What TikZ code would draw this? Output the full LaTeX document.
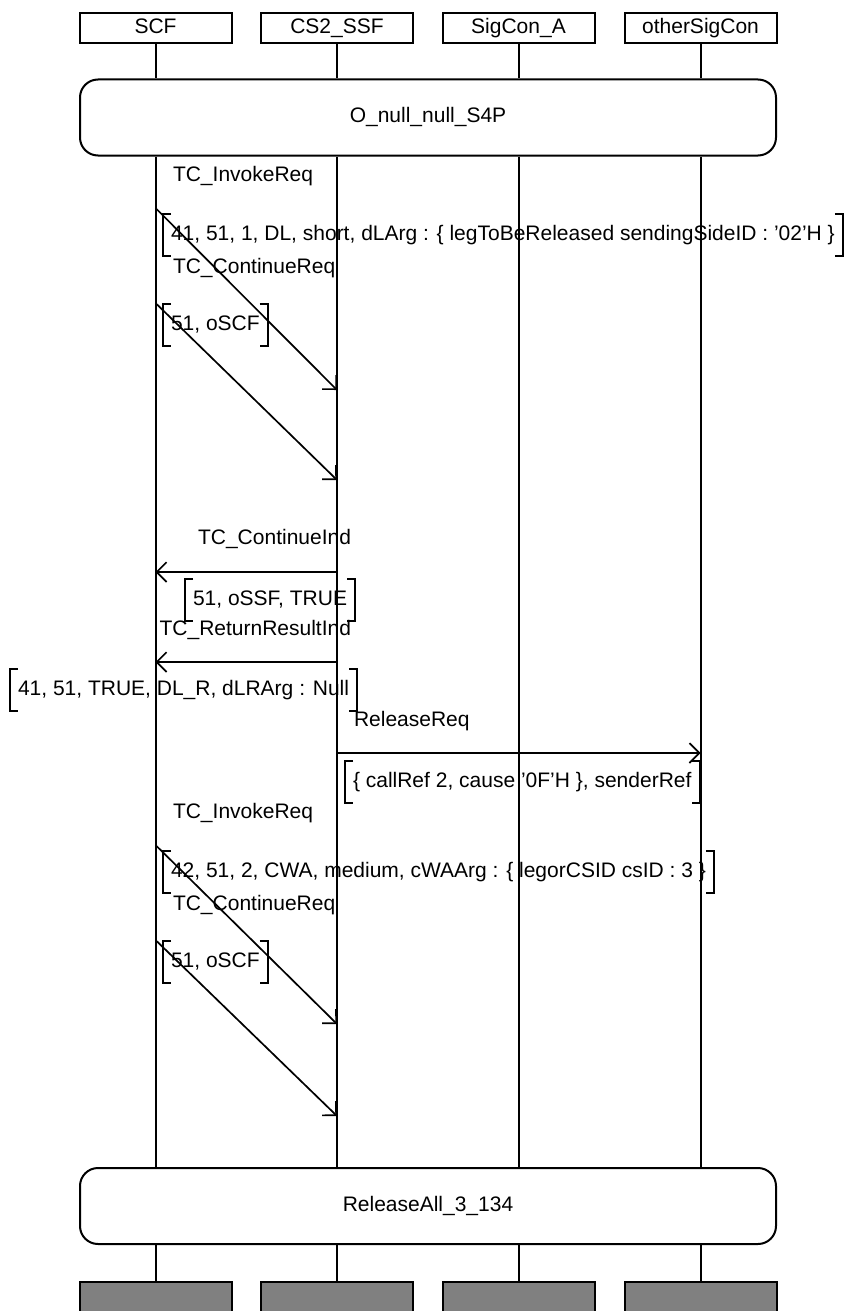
\documentclass[tikz,border=0pt]{standalone}
\usepackage{fontspec}
\setmainfont{Liberation Sans}
\usetikzlibrary{arrows.meta}

\newcommand{\paramframe}[1]{%
	\draw ([xshift=8pt]#1.north west) -- (#1.north west) -- (#1.south west) -- ([xshift=8pt]#1.south west);
	\draw ([xshift=-8pt]#1.north east) -- (#1.north east) -- (#1.south east) -- ([xshift=-8pt]#1.south east);}

\begin{document}
\begin{tikzpicture}[
			x=1pt, y=-1pt,
			line width=2pt,
			every node/.style={font=\fontsize{21}{24}\selectfont, inner sep=0pt, text height=15pt, text depth=4pt},
			entity/.style={draw, minimum width=152pt, minimum height=30pt},
			finish/.style={draw, fill=black!50, minimum width=152pt, minimum height=40pt},
			condition/.style={draw, rounded corners=18pt, minimum width=696pt, minimum height=76pt},
			msg/.style={-{Straight Barb[angle=90:14pt]}, line width=1.7pt},
			msglabel/.style={anchor=west},
			param/.style={anchor=west, inner xsep=7pt, minimum height=40pt}
		]
			\useasboundingbox (0,0) rectangle (854,1311);
			\node[entity] (scf) at (155.5,28) {SCF};
			\node[entity] (ssf) at (337,28) {CS2\_SSF};
			\node[entity] (sca) at (518.5,28) {SigCon\_A};
			\node[entity] (osc) at (700.5,28) {otherSigCon};
			\node[condition] (start) at (428,117.5) {O\_null\_null\_S4P};
			\node[condition] (stop) at (428,1206) {ReleaseAll\_3\_134};
			\node[finish] (scf-end) at (155.5,1302) {};
			\node[finish] (ssf-end) at (337,1302) {};
			\node[finish] (sca-end) at (518.5,1302) {};
			\node[finish] (osc-end) at (700.5,1302) {};
			\foreach \n in {scf,ssf,sca,osc} {
				\draw (\n.south) -- (\n.south |- start.north);
				\draw (\n.south |- start.south) -- (\n.south |- stop.north);
				\draw (\n.south |- stop.south) -- (\n-end.north);
			}
			\coordinate (inv1-a) at (scf.south |- 0,208);
			\coordinate (inv1-b) at (ssf.south |- 0,390);
			\coordinate (con1-a) at (scf.south |- 0,303);
			\coordinate (con1-b) at (ssf.south |- 0,480);
			\coordinate (cind-a) at (ssf.south |- 0,572);
			\coordinate (cind-b) at (scf.south |- 0,572);
			\coordinate (rres-a) at (ssf.south |- 0,662);
			\coordinate (rres-b) at (scf.south |- 0,662);
			\coordinate (rel-a) at (ssf.south |- 0,753);
			\coordinate (rel-b) at (osc.south |- 0,753);
			\coordinate (inv2-a) at (scf.south |- 0,845);
			\coordinate (inv2-b) at (ssf.south |- 0,1024);
			\coordinate (con2-a) at (scf.south |- 0,940);
			\coordinate (con2-b) at (ssf.south |- 0,1116);
			\draw[msg] (inv1-a) -- (inv1-b);
			\draw[msg] (con1-a) -- (con1-b);
			\draw[msg] (cind-a) -- (cind-b);
			\draw[msg] (rres-a) -- (rres-b);
			\draw[msg] (rel-a) -- (rel-b);
			\draw[msg] (inv2-a) -- (inv2-b);
			\draw[msg] (con2-a) -- (con2-b);
			\node[msglabel] (inv1) at (172,176) {TC\_InvokeReq};
			\node[msglabel] (con1) at (172,268) {TC\_ContinueReq};
			\node[msglabel, anchor=east] (cind) at (352,539) {TC\_ContinueInd};
			\node[msglabel, anchor=east] (rres) at (352,630) {TC\_ReturnResultInd};
			\node[msglabel] (rel) at (353,721) {ReleaseReq};
			\node[msglabel] (inv2) at (172,813) {TC\_InvokeReq};
			\node[msglabel] (con2) at (172,905) {TC\_ContinueReq};
			\node[param] (p1) at (163,235) {41, 51, 1, DL, short, dLArg : \{ legToBeReleased sendingSideID : '02'H \}};
			\node[param] (p2) at (163,325) {51, oSCF};
			\node[param] (p3) at (185,600) {51, oSSF, TRUE};
			\node[param] (p4) at (10,690) {41, 51, TRUE, DL\_R, dLRArg : Null};
			\node[param] (p5) at (345,782) {\{ callRef 2, cause '0F'H \}, senderRef};
			\node[param] (p6) at (163,872) {42, 51, 2, CWA, medium, cWAArg : \{ legorCSID csID : 3 \}};
			\node[param] (p7) at (163,962) {51, oSCF};
			\foreach \p in {p1,p2,p3,p4,p5,p6,p7} {\paramframe{\p}}
		\end{tikzpicture}
\end{document}
